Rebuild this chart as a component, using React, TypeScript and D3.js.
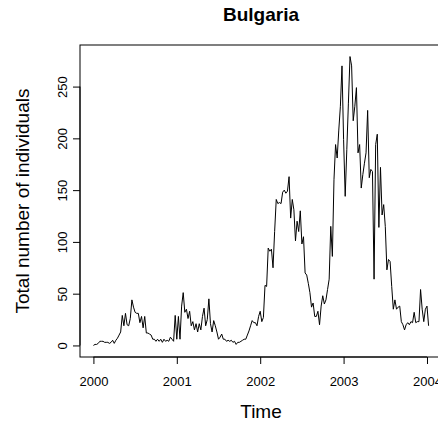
import * as d3 from 'd3';
import React, { useEffect, useRef } from 'react';

// weekly series, starts at 2000 week 1
const startYear = 2000;
const frequency = 52;
const counts = [
  0, 1, 1, 2, 4, 4, 4, 3, 3, 3,
  2, 3, 5, 2, 5, 7, 10, 13, 29, 19,
  31, 20, 19, 26, 44, 37, 32, 31, 31, 22,
  28, 17, 28, 12, 12, 11, 10, 6, 6, 4,
  6, 4, 6, 3, 6, 4, 5, 4, 8, 6,
  4, 29, 6, 28, 6, 38, 51, 32, 35, 26,
  33, 19, 23, 15, 21, 13, 21, 15, 28, 36,
  19, 25, 45, 21, 13, 24, 19, 13, 6, 8,
  11, 6, 6, 4, 5, 4, 5, 3, 4, 1,
  3, 3, 4, 5, 6, 6, 10, 14, 19, 24,
  22, 22, 19, 28, 33, 23, 27, 58, 57, 94,
  91, 93, 75, 110, 141, 137, 138, 137, 148, 150,
  147, 149, 163, 123, 141, 131, 101, 120, 110, 130,
  98, 105, 70, 68, 60, 51, 37, 41, 28, 28,
  33, 20, 38, 48, 40, 44, 54, 64, 115, 86,
  160, 194, 181, 208, 231, 270, 199, 144, 189, 234,
  279, 270, 217, 231, 249, 186, 194, 152, 165, 176,
  186, 227, 162, 170, 168, 64, 194, 204, 114, 172,
  126, 136, 115, 73, 83, 81, 57, 35, 44, 35,
  37, 38, 23, 20, 15, 20, 22, 20, 23, 22,
  32, 22, 23, 23, 54, 35, 23, 35, 38, 19
];
const xTicks = [2000, 2001, 2002, 2003, 2004];
const yTicks = [0, 50, 100, 150, 200, 250];

const width = 438;
const height = 423;
const fontFamily = '"Liberation Sans", Arial, Helvetica, sans-serif';

const App: React.FC = () => {
  const svgRef = useRef<SVGSVGElement>(null);

  useEffect(() => {
    if (!svgRef.current) return;
    const svg = d3.select(svgRef.current);
    svg.selectAll('*').remove();

    // plot region (right edge runs past the window, as in the original)
    const left = 80, top = 45, right = 442, bottom = 357;

    const series = counts.map((v, i) => ({ t: startYear + i / frequency, v }));

    // R style 4% axis extension
    const tExt = d3.extent(series, d => d.t) as [number, number];
    const tPad = (tExt[1] - tExt[0]) * 0.04;
    const vExt = d3.extent(series, d => d.v) as [number, number];
    const vPad = (vExt[1] - vExt[0]) * 0.04;

    const x = d3.scaleLinear().domain([tExt[0] - tPad, tExt[1] + tPad]).range([left, right]);
    const y = d3.scaleLinear().domain([vExt[0] - vPad, vExt[1] + vPad]).range([bottom, top]);

    const line = d3.line<{ t: number; v: number }>()
      .x(d => x(d.t))
      .y(d => y(d.v));

    svg.append('path')
      .datum(series)
      .attr('d', line)
      .attr('fill', 'none')
      .attr('stroke', '#000')
      .attr('stroke-width', 1)
      .attr('stroke-linejoin', 'round');

    // box
    svg.append('rect')
      .attr('x', left)
      .attr('y', top)
      .attr('width', right - left)
      .attr('height', bottom - top)
      .attr('fill', 'none')
      .attr('stroke', '#000')
      .attr('stroke-width', 1);

    // x axis
    const xAxis = svg.append('g')
      .attr('transform', `translate(0, ${bottom})`)
      .call(d3.axisBottom(x).tickValues(xTicks).tickFormat(d => String(d)).tickSize(7).tickPadding(13));
    xAxis.select('.domain')
      .attr('d', `M${x(xTicks[0])},0H${x(xTicks[xTicks.length - 1])}`);
    xAxis.selectAll('text')
      .attr('font-size', '13px')
      .attr('font-family', fontFamily)
      .attr('fill', '#000');

    // y axis, labels turned like R
    const yAxis = svg.append('g')
      .attr('transform', `translate(${left}, 0)`)
      .call(d3.axisLeft(y).tickValues(yTicks).tickFormat(d => String(d)).tickSize(7));
    yAxis.select('.domain')
      .attr('d', `M0,${y(yTicks[0])}V${y(yTicks[yTicks.length - 1])}`);
    yAxis.selectAll('text')
      .attr('x', null)
      .attr('dy', null)
      .attr('text-anchor', 'middle')
      .attr('transform', 'translate(-13, 0) rotate(-90)')
      .attr('font-size', '13px')
      .attr('font-family', fontFamily)
      .attr('fill', '#000');

    // title
    svg.append('text')
      .attr('x', (left + right) / 2)
      .attr('y', 21)
      .attr('text-anchor', 'middle')
      .attr('font-size', '19px')
      .attr('font-weight', 'bold')
      .attr('font-family', fontFamily)
      .text('Bulgaria');

    svg.append('text')
      .attr('x', (left + right) / 2)
      .attr('y', 418)
      .attr('text-anchor', 'middle')
      .attr('font-size', '19px')
      .attr('font-family', fontFamily)
      .text('Time');

    svg.append('text')
      .attr('transform', `translate(29, ${(top + bottom) / 2}) rotate(-90)`)
      .attr('text-anchor', 'middle')
      .attr('font-size', '19px')
      .attr('font-family', fontFamily)
      .text('Total number of individuals');
  }, []);

  return (
    <svg
      ref={svgRef}
      width={width}
      height={height}
      style={{ position: 'absolute', left: 0, top: 0, background: '#fff', overflow: 'hidden' }}
    />
  );
};

export default App;
